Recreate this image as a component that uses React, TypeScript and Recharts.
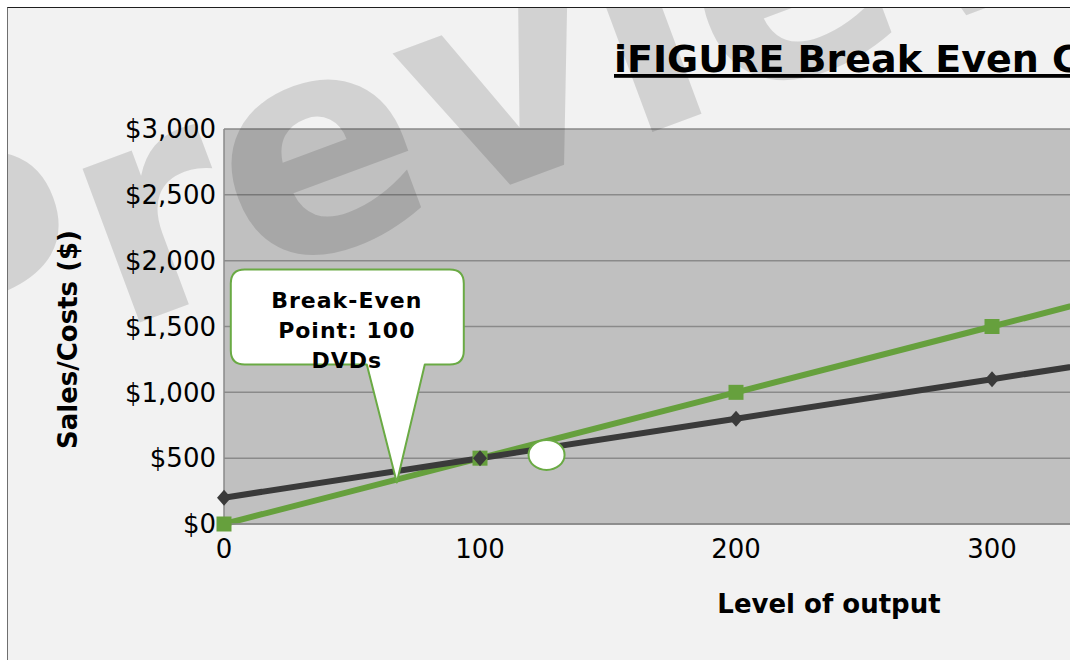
import { LineChart, Line, XAxis, YAxis, CartesianGrid, ReferenceDot, Label } from 'recharts';

const outputLevels = [0, 100, 200, 300, 400];
const totalCosts = [200, 500, 800, 1100, 1400];
const salesRevenue = [0, 500, 1000, 1500, 2000];
const xTicks = [0, 100, 200, 300, 400];
const yTicks = [0, 500, 1000, 1500, 2000, 2500, 3000];
const calloutLines = ['Break-Even', 'Point: 100', 'DVDs'];
const calloutTip = { x: 67.5, y: 315 };
const markerEllipse = { x: 126, y: 525 };

const rows = outputLevels.map((level, i) => ({
    output: level,
    costs: totalCosts[i],
    sales: salesRevenue[i],
}));

const FONT = '"DejaVu Sans", Verdana, sans-serif';
const GREEN = '#66a03d';
const DARK = '#3a3a3a';
const GRID = '#8a8a8a';

const fmtMoney = (v: number) => '$' + v.toLocaleString('en-US');

function SquareDot(props: any) {
    const { cx, cy, index } = props;
    return <rect key={'sq' + index} x={cx - 7.5} y={cy - 7.5} width={15} height={15} fill={GREEN} />;
}

function DiamondDot(props: any) {
    const { cx, cy, index } = props;
    return (
        <polygon
            key={'dm' + index}
            points={`${cx},${cy - 8} ${cx + 7},${cy} ${cx},${cy + 8} ${cx - 7},${cy}`}
            fill={DARK}
        />
    );
}

function Callout(props: any) {
    const { cx, cy } = props;
    const left = cx - 166, right = cx + 67, top = cy - 213, bottom = cy - 118, r = 14;
    const d = [
        `M ${left + r} ${top}`,
        `L ${right - r} ${top}`,
        `Q ${right} ${top} ${right} ${top + r}`,
        `L ${right} ${bottom - r}`,
        `Q ${right} ${bottom} ${right - r} ${bottom}`,
        `L ${cx + 28} ${bottom}`,
        `L ${cx} ${cy}`,
        `L ${cx - 30} ${bottom}`,
        `L ${left + r} ${bottom}`,
        `Q ${left} ${bottom} ${left} ${bottom - r}`,
        `L ${left} ${top + r}`,
        `Q ${left} ${top} ${left + r} ${top}`,
        'Z',
    ].join(' ');
    return (
        <g>
            <path d={d} fill="#fff" stroke="#6aaa44" strokeWidth={2} strokeLinejoin="round" />
            {calloutLines.map((t, i) => (
                <text
                    key={t}
                    x={cx - 50}
                    y={cy - 175 + i * 30}
                    textAnchor="middle"
                    fontFamily={FONT}
                    fontWeight="bold"
                    fontSize={22}
                    letterSpacing={1}
                    fill="#000"
                >
                    {t}
                </text>
            ))}
        </g>
    );
}

function SmallEllipse(props: any) {
    const { cx, cy } = props;
    return <ellipse cx={cx} cy={cy} rx={18} ry={15} fill="#fff" stroke="#6aaa44" strokeWidth={2} />;
}

export default function App() {
    return (
        <div
            style={{
                position: 'fixed',
                left: 7,
                top: 7,
                width: 1063,
                height: 653,
                boxSizing: 'border-box',
                borderLeft: '1px solid #6f6f6f',
                borderTop: '1px solid #1e1e1e',
                background: '#f2f2f2',
                overflow: 'hidden',
            }}
        >
            <LineChart
                width={1280}
                height={700}
                data={rows}
                margin={{ top: 121, right: 40, bottom: 154, left: 0 }}
            >
                <CartesianGrid vertical={false} stroke={GRID} strokeWidth={1.5} fill="#c0c0c0" />
                <XAxis
                    dataKey="output"
                    type="number"
                    domain={[0, 400]}
                    ticks={xTicks}
                    height={30}
                    tickLine={false}
                    tickMargin={10}
                    axisLine={{ stroke: GRID, strokeWidth: 1.5 }}
                    tick={{ fill: '#000', fontSize: 26, fontFamily: FONT }}
                >
                    <Label
                        content={({ viewBox }: any) => (
                            <text
                                x={viewBox.x + 605}
                                y={viewBox.y + 89}
                                textAnchor="middle"
                                fontFamily={FONT}
                                fontWeight="bold"
                                fontSize={26}
                                fill="#000"
                            >
                                Level of output
                            </text>
                        )}
                    />
                </XAxis>
                <YAxis
                    type="number"
                    width={216}
                    domain={[0, 3000]}
                    ticks={yTicks}
                    tickFormatter={fmtMoney}
                    tickLine={false}
                    axisLine={{ stroke: GRID, strokeWidth: 1.5 }}
                    tick={{ fill: '#000', fontSize: 26, fontFamily: FONT }}
                >
                    <Label
                        content={({ viewBox }: any) => {
                            const x = viewBox.x + 69;
                            const y = viewBox.y + viewBox.height / 2 + 13;
                            return (
                                <text
                                    x={x}
                                    y={y}
                                    transform={`rotate(-90 ${x} ${y})`}
                                    textAnchor="middle"
                                    fontFamily={FONT}
                                    fontWeight="bold"
                                    fontSize={26}
                                    fill="#000"
                                >
                                    Sales/Costs ($)
                                </text>
                            );
                        }}
                    />
                </YAxis>
                <Line
                    dataKey="sales"
                    stroke={GREEN}
                    strokeWidth={6}
                    dot={SquareDot}
                    activeDot={false}
                    isAnimationActive={false}
                />
                <Line
                    dataKey="costs"
                    stroke={DARK}
                    strokeWidth={6}
                    dot={DiamondDot}
                    activeDot={false}
                    isAnimationActive={false}
                />
                <ReferenceDot x={calloutTip.x} y={calloutTip.y} shape={Callout} />
                <ReferenceDot x={markerEllipse.x} y={markerEllipse.y} shape={SmallEllipse} />
            </LineChart>

            {/* title + preview watermark on top */}
            <svg
                width={1062}
                height={652}
                style={{ position: 'absolute', left: 0, top: 0, pointerEvents: 'none' }}
            >
                <text
                    x={606}
                    y={64}
                    fontFamily={FONT}
                    fontWeight="bold"
                    fontSize={38}
                    textDecoration="underline"
                    fill="#000"
                >
                    iFIGURE Break Even Chart
                </text>
                <text
                    x={-98}
                    y={400}
                    transform="rotate(-20.4 -98 400)"
                    fontFamily={FONT}
                    fontWeight="bold"
                    fontSize={300}
                    fill="rgba(0,0,0,0.13)"
                >
                    Preview
                </text>
            </svg>
        </div>
    );
}
